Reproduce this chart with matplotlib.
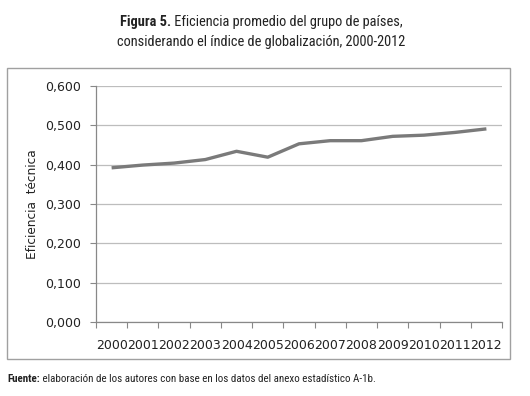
import matplotlib
matplotlib.use("Agg")
import matplotlib.pyplot as plt
from matplotlib import font_manager as fm
from matplotlib.patches import Rectangle

years = ["2000", "2001", "2002", "2003", "2004", "2005", "2006",
         "2007", "2008", "2009", "2010", "2011", "2012"]
efficiency = [0.392, 0.399, 0.404, 0.413, 0.434, 0.419, 0.453,
              0.461, 0.461, 0.472, 0.475, 0.482, 0.491]
yticks = [0.0, 0.1, 0.2, 0.3, 0.4, 0.5, 0.6]
ytick_labels = ["0,000", "0,100", "0,200", "0,300", "0,400", "0,500", "0,600"]

names = {f.name for f in fm.fontManager.ttflist}
narrow = "DejaVu Sans"
for cand in ["Roboto Condensed", "Archivo Narrow", "PT Sans Narrow", "Fira Sans Condensed",
             "IBM Plex Sans Condensed", "Open Sans Condensed", "Barlow Semi Condensed",
             "Liberation Sans Narrow", "Pragati Narrow"]:
    if cand in names:
        narrow = cand
        break

W, H = 530, 396
fig = plt.figure(figsize=(W / 100, H / 100), dpi=100)

def fx(px):
    return px / W

def fy(py):
    return 1 - py / H

# outer box
fig.patches.append(Rectangle((fx(7), fy(359)), fx(510) - fx(7), fy(68) - fy(359),
                             transform=fig.transFigure, fill=False,
                             edgecolor="#a0a0a0", linewidth=1.0))

ax = fig.add_axes([fx(96), fy(322), fx(502) - fx(96), fy(86) - fy(322)])
x = list(range(len(years)))
ax.plot(x, efficiency, color="#7a7a7a", linewidth=2.4, solid_capstyle="butt")
ax.set_xlim(-0.5, len(years) - 0.5)
ax.set_ylim(0, 0.6)
ax.set_yticks(yticks)
ax.set_yticklabels(ytick_labels, fontsize=9, color="#222222")
ax.set_xticks([i - 0.5 for i in range(len(years) + 1)], minor=False)
ax.set_xticklabels([])
ax.set_xticks(x, minor=True)
ax.set_xticklabels(years, minor=True, fontsize=9, color="#222222")
ax.tick_params(axis="x", which="minor", length=0, pad=12)
ax.tick_params(axis="x", which="major", length=4, color="#888888", direction="out")
ax.tick_params(axis="y", length=4, color="#888888", pad=7)
for sp in ["top", "right"]:
    ax.spines[sp].set_visible(False)
for sp in ["left", "bottom"]:
    ax.spines[sp].set_color("#888888")
    ax.spines[sp].set_linewidth(0.9)
ax.grid(axis="y", color="#bdbdbd", linewidth=0.9)
ax.set_axisbelow(True)
ax.set_ylabel("Eficiencia  técnica", fontsize=8.7, color="#222222", labelpad=4)

fig.canvas.draw()
r = fig.canvas.get_renderer()

def mixed_line(parts, cy, size, center=None, left=None, target=None):
    def build(sz):
        ts, ws = [], []
        for s, w in parts:
            t = fig.text(0, 0, s, fontsize=sz, fontweight=w, family=narrow,
                         color="#222222", va="center", ha="left")
            ts.append(t)
            ws.append(t.get_window_extent(renderer=r).width)
        return ts, ws
    texts, widths = build(size)
    if target is not None:
        for t in texts:
            t.remove()
        size = size * target / sum(widths)
        texts, widths = build(size)
    total = sum(widths)
    start = (center - total / 2) if center is not None else left
    pos = start
    for t, wd in zip(texts, widths):
        t.set_position((fx(pos), fy(cy)))
        pos += wd
    return size

s1 = mixed_line([("Figura 5.", "bold"), (" Eficiencia promedio del grupo de países,", "normal")],
                22, 11.5, center=261, target=285)
mixed_line([("considerando el índice de globalización, 2000-2012", "normal")], 42, s1, center=261)
mixed_line([("Fuente:", "bold"),
            (" elaboración de los autores con base en los datos del anexo estadístico A-1b.", "normal")],
           379, 8, left=7, target=370)

fig.savefig("out.png", dpi=100)
